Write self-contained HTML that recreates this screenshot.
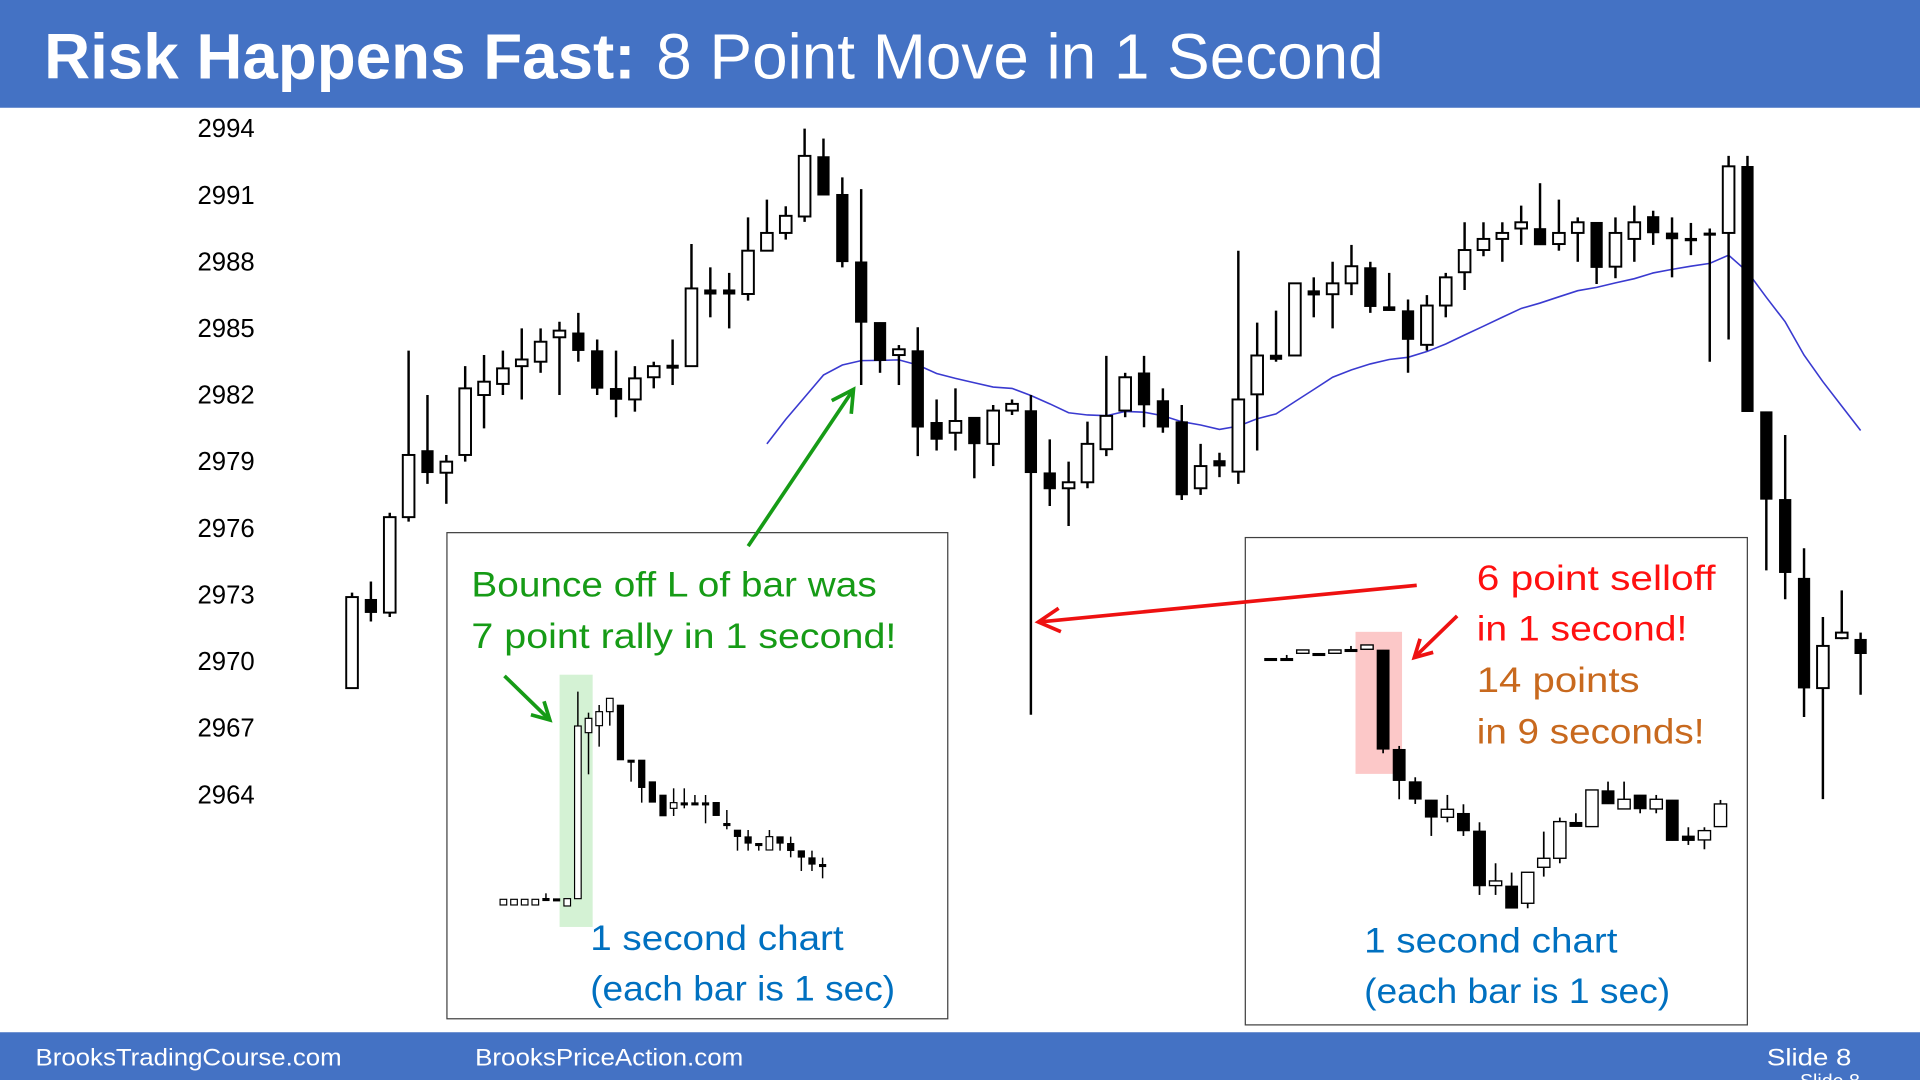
<!DOCTYPE html>
<html><head><meta charset="utf-8"><title>Risk Happens Fast</title>
<style>html,body{margin:0;padding:0;background:#fff;overflow:hidden}svg{display:block}</style>
</head><body>
<svg id="slide" xmlns="http://www.w3.org/2000/svg" width="1920" height="1080" viewBox="0 0 1568 882" font-family="'Liberation Sans', sans-serif">
<rect x="0" y="0" width="1568" height="88" fill="#4472C4"/>
<text x="36" y="64" fill="#fff" font-size="52"><tspan font-weight="bold" textLength="483" lengthAdjust="spacingAndGlyphs">Risk Happens Fast:</tspan><tspan x="536" textLength="594" lengthAdjust="spacingAndGlyphs">8 Point Move in 1 Second</tspan></text>
<g id="yaxis"></g>
<g id="main"></g>
<rect x="365" y="435" width="409" height="397" fill="#fff" stroke="#404040" stroke-width="1"/>
<rect x="1017" y="439" width="410" height="398" fill="#fff" stroke="#404040" stroke-width="1"/>
<rect x="457" y="551" width="27" height="206" fill="#d4f2d4"/>
<rect x="1107" y="516" width="38" height="116" fill="#fcc8c8"/>
<g id="inL"></g>
<g id="inR"></g>
<g id="arrows"></g>
<text x="385" y="487" fill="#169b16" font-size="29" textLength="331" lengthAdjust="spacingAndGlyphs">Bounce off L of bar was</text>
<text x="385" y="529" fill="#169b16" font-size="29" textLength="347" lengthAdjust="spacingAndGlyphs">7 point rally in 1 second!</text>
<text x="482" y="776" fill="#0070C0" font-size="29" textLength="207" lengthAdjust="spacingAndGlyphs">1 second chart</text>
<text x="482" y="817" fill="#0070C0" font-size="29" textLength="249" lengthAdjust="spacingAndGlyphs">(each bar is 1 sec)</text>
<text x="1206" y="482" fill="#ff1010" font-size="29" textLength="195" lengthAdjust="spacingAndGlyphs">6 point selloff</text>
<text x="1206" y="523" fill="#ff1010" font-size="29" textLength="172" lengthAdjust="spacingAndGlyphs">in 1 second!</text>
<text x="1206" y="565" fill="#c8691e" font-size="29" textLength="133" lengthAdjust="spacingAndGlyphs">14 points</text>
<text x="1206" y="607" fill="#c8691e" font-size="29" textLength="186" lengthAdjust="spacingAndGlyphs">in 9 seconds!</text>
<text x="1114" y="778" fill="#0070C0" font-size="29" textLength="207" lengthAdjust="spacingAndGlyphs">1 second chart</text>
<text x="1114" y="819" fill="#0070C0" font-size="29" textLength="250" lengthAdjust="spacingAndGlyphs">(each bar is 1 sec)</text>
<rect x="0" y="843" width="1568" height="39" fill="#4472C4"/>
<text x="29" y="870" fill="#fff" font-size="20" textLength="250" lengthAdjust="spacingAndGlyphs">BrooksTradingCourse.com</text>
<text x="388" y="870" fill="#fff" font-size="20" textLength="219" lengthAdjust="spacingAndGlyphs">BrooksPriceAction.com</text>
<text x="1443" y="870" fill="#fff" font-size="20" textLength="69" lengthAdjust="spacingAndGlyphs">Slide  8</text>
<text x="1470" y="888" fill="#fff" font-size="16">Slide 8</text>
</svg>
<script>
const yTicks = [2994, 2991, 2988, 2985, 2982, 2979, 2976, 2973, 2970, 2967, 2964];
const opens  = [2968.8,2972.8,2972.2,2976.5,2979.5,2978.5,2979.3,2982,2982.5,2983.3,2983.5,2984.6,2984.8,2984,2982.3,2981.8,2982.8,2983.35,2983.3,2986.74,2986.74,2986.55,2988.5,2989.3,2990.04,2992.74,2991.04,2988,2985.27,2983.8,2984,2980.77,2980.3,2981,2979.8,2981.3,2981.3,2978.5,2977.8,2978.07,2979.56,2981.3,2983,2981.75,2980.8,2977.8,2979.05,2978.55,2982.03,2983.8,2983.78,2986.7,2986.54,2987.03,2987.74,2985.98,2985.8,2984.26,2986.03,2987.53,2988.53,2989.03,2989.5,2989.5,2988.8,2989.3,2989.78,2987.78,2989.03,2990.04,2989.3,2989.06,2989.3,2989.3,2992.3,2981.25,2977.3,2973.75,2968.8,2971.05,2971.0];
const highs  = [2973.1,2973.6,2976.7,2984,2982,2979.3,2983.3,2983.8,2984,2985,2985,2985.3,2985.7,2984.5,2984,2983.3,2983.5,2984.5,2988.8,2987.75,2987.5,2990,2990.8,2990.5,2994,2993.55,2991.8,2991.27,2985.27,2984.25,2985.05,2981.8,2982.3,2981,2981.55,2981.8,2982,2980,2979,2980.8,2983.76,2983,2983.76,2982.3,2981.55,2979.8,2979.4,2988.5,2985.26,2985.8,2987.03,2987.3,2988,2988.76,2988,2987.5,2986.3,2986.5,2987.5,2989.78,2989.78,2989.78,2990.53,2991.54,2990.8,2990,2989.78,2990,2990.53,2990.3,2990,2989.75,2989.5,2992.77,2992.77,2981.25,2980.2,2975.1,2972,2973.2,2971.3];
const lows   = [2968.8,2971.8,2972,2976.3,2978,2977.1,2979,2980.5,2982,2981.8,2983,2982,2983.5,2982,2981,2981.25,2982.3,2982.45,2983.3,2985.5,2985,2986.25,2988.5,2989,2989.8,2991,2987.75,2982.45,2983,2982.45,2979.25,2979.5,2979.5,2978.25,2978.8,2981.1,2967.6,2977,2976.1,2977.8,2979.25,2981,2980.55,2980.3,2977.27,2977.5,2978.3,2978,2979.5,2983.5,2983.78,2985.5,2985,2986.5,2985.7,2985.8,2983,2984,2985.5,2986.73,2988.25,2988,2988.76,2988.76,2988.5,2988,2987,2987.26,2988,2988.76,2987.3,2988.3,2983.5,2984.5,2981.25,2974.1,2972.8,2967.5,2963.8,2971,2968.5];
const closes = [2972.9,2972.2,2976.5,2979.3,2978.5,2979,2982.3,2982.6,2983.2,2983.6,2984.4,2984.9,2984,2982.3,2981.8,2982.75,2983.3,2983.2,2986.8,2986.54,2986.54,2988.5,2989.3,2990.07,2992.77,2991,2988,2985.27,2983.55,2984.06,2980.55,2980,2980.83,2979.8,2981.3,2981.6,2978.5,2977.77,2978.07,2979.8,2981.06,2982.8,2981.55,2980.55,2977.5,2978.8,2978.8,2981.8,2983.78,2983.6,2987.03,2986.5,2987.03,2987.8,2985.98,2985.8,2984.5,2986.03,2987.3,2988.53,2989.03,2989.3,2989.78,2988.76,2989.3,2989.78,2987.74,2989.3,2989.78,2989.3,2989.03,2988.94,2989.2,2992.3,2981.25,2977.3,2974.0,2968.8,2970.7,2971.3,2970.35];
const maStart = 22;
const maValues = [2979.8,2980.9,2981.9,2982.9,2983.35,2983.55,2983.56,2983.58,2983.35,2982.97,2982.75,2982.55,2982.36,2982.3,2981.98,2981.6,2981.2,2981.1,2981.07,2981.26,2981.23,2981.07,2980.8,2980.65,2980.45,2980.6,2980.93,2981.15,2981.7,2982.25,2982.8,2983.13,2983.4,2983.6,2983.7,2983.96,2984.3,2984.7,2985.1,2985.5,2985.9,2986.14,2986.42,2986.7,2986.85,2987.05,2987.24,2987.5,2987.66,2987.8,2987.93,2988.3,2987.55,2986.4,2985.3,2983.8,2982.6,2981.5,2980.4];

const lOpen  = [265,265,265,265,285,284,262,284,782,803,845,865,700,700,635,595,555,572,572,572,573,510,490,470,450,430,470,450,428,407,387];
const lHigh  = [282,282,282,282,300,284,284,905,842,865,885,865,700,700,635,595,615,615,595,595,573,550,490,490,450,490,470,470,428,428,407];
const lLow   = [265,265,265,265,284,283,262,284,657,740,803,700,635,572,573,532,532,555,570,510,533,492,428,428,428,430,428,408,367,367,345];
const lClose = [282,282,282,282,284,283,284,802,825,845,885,700,698,617,573,532,572,570,570,570,533,510,470,450,448,470,450,428,408,387,387];

const rOpen  = [885,885,900,900,900,912,912,910,612,515,460,408,420,367,203,202,150,258,285,393,380,488,433,475,433,460,352,340,380];
const rHigh  = [885,895,910,900,910,922,925,910,622,528,460,475,447,393,270,242,243,365,407,420,490,515,515,475,475,460,378,378,460];
const rLow   = [884,885,900,900,900,912,912,600,462,448,352,393,352,175,175,135,135,230,270,380,380,448,433,420,420,338,325,312,380];
const rClose = [885,885,910,900,910,912,925,612,518,462,408,432,367,202,217,135,243,285,395,380,490,448,462,433,462,338,338,368,448];

const NS = 'http://www.w3.org/2000/svg';
function mk(tag, attrs, parent){ const e=document.createElementNS(NS,tag); for(const k in attrs) e.setAttribute(k,attrs[k]); parent.appendChild(e); return e; }

// main axis functions
const yMain = p => 105 + (2994 - p) * 18.133;
const xMain = i => 287.5 + 15.4 * i;
const yax = document.getElementById('yaxis');
yTicks.forEach(t => {
  const tx = mk('text', {x:208, y:yMain(t)+7, 'text-anchor':'end', 'font-size':'21', fill:'#000'}, yax);
  tx.textContent = t;
  
  
});

function drawCandle(g, x, yO, yH, yL, yC, w, sw){
  const c = mk('g', {}, g);
  
  
  mk('line', {x1:x, x2:x, y1:yH, y2:yL, stroke:'#000', 'stroke-width':sw}, c);
  const top = Math.min(yO, yC), h = Math.max(Math.abs(yO - yC), 2);
  const up = yC < yO - 0.5;
  mk('rect', {x:x - w/2, y:top, width:w, height:h, fill: up ? '#fff' : '#000', stroke:'#000', 'stroke-width': up ? sw*0.8 : 0.5}, c);
}

const main = document.getElementById('main');
// moving average
let pts = maValues.map((v, k) => xMain(maStart + k).toFixed(1) + ',' + yMain(v).toFixed(1)).join(' ');
const ma = mk('polyline', {points:pts, fill:'none', stroke:'#3a3ad0', 'stroke-width':1.3}, main);


for (let i = 0; i < opens.length; i++) {
  drawCandle(main, xMain(i), yMain(opens[i]), yMain(highs[i]), yMain(lows[i]), yMain(closes[i]), 9.5, 2);
}

// left inset
const xL = j => 411.1 + 8.69 * j;
const yL = v => 539 + 0.2722 * (1000 - v);
const gL = document.getElementById('inL');
for (let j = 0; j < lOpen.length; j++) drawCandle(gL, xL(j), yL(lOpen[j]), yL(lHigh[j]), yL(lLow[j]), yL(lClose[j]), 5.4, 1.2);

// right inset
const xR = j => 1037.7 + 13.12 * j;
const yR = v => 506.3 + 0.2722 * (1000 - v);
const gR = document.getElementById('inR');
for (let j = 0; j < rOpen.length; j++) drawCandle(gR, xR(j), yR(rOpen[j]), yR(rHigh[j]), yR(rLow[j]), yR(rClose[j]), 10, 1.4);

// arrows
const ag = document.getElementById('arrows');
function arrow(name, x1, y1, x2, y2, col, w, hl){
  const g = mk('g', {}, ag);
  
  
  mk('line', {x1:x1, y1:y1, x2:x2, y2:y2, stroke:col, 'stroke-width':w}, g);
  const a = Math.atan2(y2 - y1, x2 - x1);
  const p1 = [x2 - hl*Math.cos(a - 0.5), y2 - hl*Math.sin(a - 0.5)];
  const p2 = [x2 - hl*Math.cos(a + 0.5), y2 - hl*Math.sin(a + 0.5)];
  mk('polyline', {points:`${p1[0]},${p1[1]} ${x2},${y2} ${p2[0]},${p2[1]}`, fill:'none', stroke:col, 'stroke-width':w, 'stroke-linejoin':'miter'}, g);
}
arrow('green-arrow-to-low', 611, 446, 697, 318, '#169b16', 3, 20);
arrow('green-arrow-inset', 412, 552, 449, 588, '#169b16', 3, 16);
arrow('red-arrow-to-tail', 1157, 478, 848, 508, '#ee1111', 3, 20);
arrow('red-arrow-inset', 1190, 503, 1155, 537, '#ee1111', 3, 16);
</script>
</body></html>
